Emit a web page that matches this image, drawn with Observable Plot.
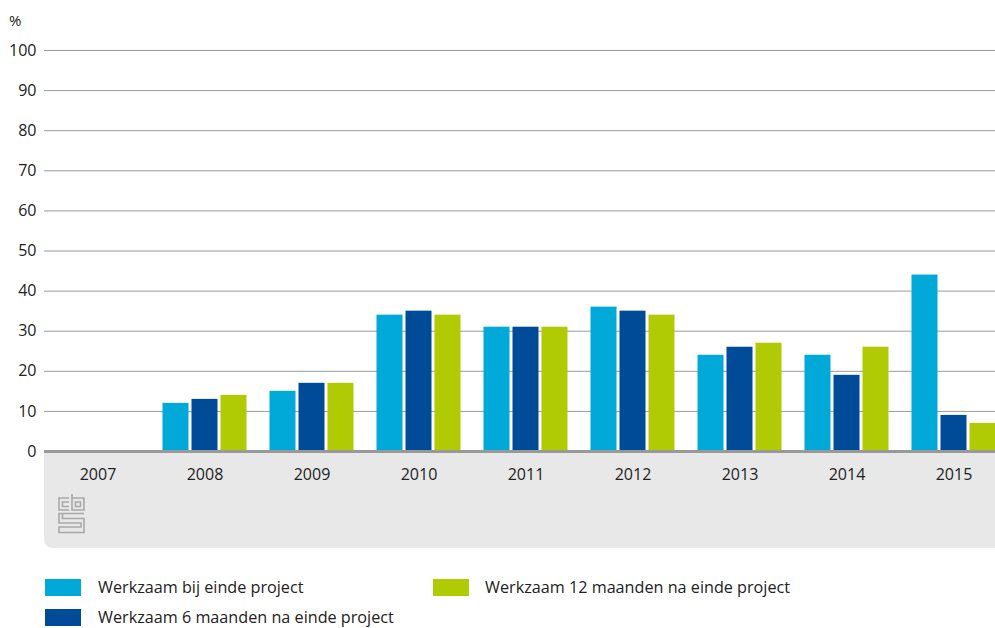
<!DOCTYPE html>
<html>
<head>
<meta charset="utf-8">
<script src="https://cdn.jsdelivr.net/npm/d3@7"></script>
<script src="https://cdn.jsdelivr.net/npm/@observablehq/plot@0.6"></script>
<style>
  html, body { margin: 0; padding: 0; background: #fff; overflow: hidden; }
  #wrap { position: relative; width: 995px; height: 628px; overflow: hidden; font-family: "Open Sans", sans-serif; color: #222; }
  #band { position: absolute; left: 44px; top: 452px; width: 960px; height: 96px; background: #e8e8e8; border-bottom-left-radius: 8px; }
  #chart { position: absolute; left: 0; top: 0; }
  #unit { position: absolute; left: 9px; top: 10px; font-size: 15px; }
  #logo { position: absolute; left: 57px; top: 494px; }
  .leg { position: absolute; font-size: 16.2px; white-space: nowrap; }
  .sw { position: absolute; width: 36px; height: 17px; }
</style>
</head>
<body>
<div id="wrap">
  <div id="band"></div>
  <svg id="logo" width="30" height="40" viewBox="0 0 30 40" fill="none" stroke="#a8a8a8" stroke-width="1.6">
    <path d="M12 4 H2 V16 H12 M12 8 H5.5 V12.5 H12"/>
    <path d="M15 0 V16 H27 V4 H15 M18.5 8 H23.5 V12.5 H18.5 Z"/>
    <path d="M27 19.5 H2 V29 H24 V33 H2 V38.5 H27 V24.5 H5.5 V20"/>
  </svg>
  <div id="chart"></div>
  <div id="unit">%</div>
  <div id="legend"></div>
</div>
<script>
const years = ["2007", "2008", "2009", "2010", "2011", "2012", "2013", "2014", "2015"];
const seriesNames = [
  "Werkzaam bij einde project",
  "Werkzaam 6 maanden na einde project",
  "Werkzaam 12 maanden na einde project"
];
const bijEinde = [null, 12, 15, 34, 31, 36, 24, 24, 44];
const zesMaanden = [null, 13, 17, 35, 31, 35, 26, 19, 9];
const twaalfMaanden = [null, 14, 17, 34, 31, 34, 27, 26, 7];
const colors = ["#00a9d8", "#004b98", "#b0cb03"];
const yTicks = [0, 10, 20, 30, 40, 50, 60, 70, 80, 90, 100];

const seriesValues = [bijEinde, zesMaanden, twaalfMaanden];
const offsets = [-29, 0, 29];

const data = seriesValues.map((vals) => years.map((y, i) => ({year: y, value: vals[i]})).filter(d => d.value != null));

const chart = Plot.plot({
  width: 995,
  height: 550,
  marginTop: 50,
  marginBottom: 99,
  marginLeft: 44,
  marginRight: 0,
  style: {background: "transparent", fontSize: "16px", fontFamily: "'Open Sans', sans-serif", color: "#222", overflow: "visible"},
  x: {domain: years, range: [43.5, 1007.5], padding: 0, label: null},
  y: {domain: [0, 100], label: null},
  marks: [
    Plot.gridY(yTicks, {stroke: "#9a9a9a", strokeOpacity: 1, strokeWidth: 1}),
    ...data.map((d, k) => Plot.barY(d, {
      x: "year", y: "value", fill: colors[k],
      insetLeft: 40.5, insetRight: 40.5, dx: offsets[k]
    })),
    Plot.ruleY([0], {stroke: "#999", strokeWidth: 3}),
    Plot.axisX({tickSize: 0, tickPadding: 17.5, label: null}),
    Plot.axisY(yTicks, {tickSize: 0, tickPadding: 8, label: null})
  ]
});
document.getElementById("chart").appendChild(chart);

const legend = document.getElementById("legend");
const legPos = [
  {x: 45, y: 579, tx: 98},
  {x: 45, y: 609, tx: 98},
  {x: 433, y: 579, tx: 485}
];
seriesNames.forEach((name, k) => {
  const p = legPos[k];
  const sw = document.createElement("div");
  sw.className = "sw";
  sw.style.left = p.x + "px";
  sw.style.top = p.y + "px";
  sw.style.background = colors[k];
  legend.appendChild(sw);
  const t = document.createElement("div");
  t.className = "leg";
  t.style.left = p.tx + "px";
  t.style.top = (p.y - 3) + "px";
  t.textContent = name;
  legend.appendChild(t);
});
</script>
</body>
</html>
